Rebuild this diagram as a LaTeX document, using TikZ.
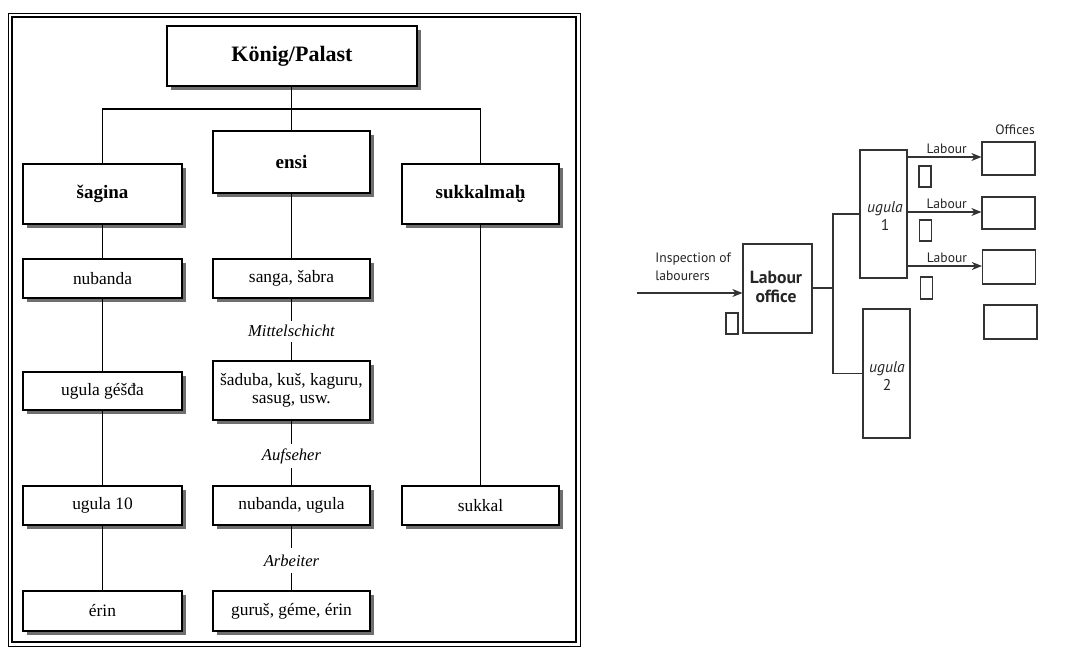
\documentclass[tikz,border=0pt]{standalone}
\usepackage{fontspec}
\setmainfont{Liberation Serif}
\newfontfamily\rsans{PT Sans}
\usetikzlibrary{shadows,arrows.meta}
\tikzset{
  lbox/.style={draw=black, line width=0.8pt, fill=white, inner sep=0pt, align=center,
    drop shadow={shadow xshift=2pt, shadow yshift=-2pt, opacity=0.8, fill=black!70}},
  bigbox/.style={lbox, font=\fontsize{9.5}{11}\selectfont\bfseries},
  smbox/.style={lbox, font=\fontsize{8.7}{10}\selectfont},
  lline/.style={line width=0.8pt, black},
  ilabel/.style={font=\fontsize{8.3}{10}\selectfont\itshape, inner sep=0pt},
  rline/.style={line width=0.6pt, black!80},
  rbox/.style={draw=black!80, line width=0.6pt, fill=white, inner sep=0pt, align=center},
  rtext/.style={font=\rsans\fontsize{6.8}{7.2}\selectfont, inner sep=0pt, text=black!85},
  rarrow/.style={rline, -{Stealth[length=5pt,width=4pt,inset=1.5pt]}},
}
\begin{document}
\begin{tikzpicture}[x=0.5pt, y=-0.5pt]
\useasboundingbox (0,0) rectangle (1089,648);
\fill[white] (0,0) rectangle (1089,648);
% frame
\draw[line width=0.5pt] (8,13) rectangle (580,646);
\draw[line width=1.1pt] (12,17) rectangle (576,642);
% top box
\node[lbox, font=\fontsize{11}{13}\selectfont\bfseries, minimum width=125pt, minimum height=30pt] (koenig) at (292,56) {König/Palast};
% row 1
\node[bigbox, minimum width=79.5pt, minimum height=30pt] (sagina) at (102.5,194) {šagina};
\node[bigbox, minimum width=78.5pt, minimum height=31pt] (ensi) at (291.5,162) {ensi};
\node[bigbox, minimum width=78.5pt, minimum height=30pt] (sukkalmah) at (480.5,194) {sukkalma\char"1E2B};
% column 1
\node[smbox, minimum width=79.5pt, minimum height=19.5pt] (nubanda) at (102.5,278.5) {nubanda};
\node[smbox, minimum width=79.5pt, minimum height=19pt] (gesda) at (102.5,391) {ugula géšđa};
\node[smbox, minimum width=79.5pt, minimum height=19.5pt] (ugulaten) at (102.5,505.5) {ugula 10};
\node[smbox, minimum width=79.5pt, minimum height=20pt] (erin) at (102.5,611) {érin};
% column 2
\node[smbox, minimum width=78.5pt, minimum height=19.5pt] (sanga) at (291.5,278.5) {sanga, šabra};
\node[smbox, minimum width=78.5pt, minimum height=29.5pt] (saduba) at (291.5,390.5) {šaduba, kuš, kaguru,\\[-1pt]sasug, usw.};
\node[smbox, minimum width=78.5pt, minimum height=19.5pt] (nubugula) at (291.5,505.5) {nubanda, ugula};
\node[smbox, minimum width=78.5pt, minimum height=20pt] (gurus) at (291.5,611) {guruš, géme, érin};
% column 3
\node[smbox, minimum width=78.5pt, minimum height=19.5pt] (sukkal) at (480.5,505.5) {sukkal};
% italic labels
\node[ilabel] (mittel) at (291.5,331) {Mittelschicht};
\node[ilabel] (aufseher) at (291.5,456) {Aufseher};
\node[ilabel] (arbeiter) at (291.5,561) {Arbeiter};
% connectors
\coordinate (hub) at (291.5,109);
\draw[lline] (koenig.south -| hub) -- (hub);
\draw[lline] (sagina.north) |- (hub) -| (sukkalmah.north);
\draw[lline] (hub) -- (ensi.north);
\draw[lline] (sagina) -- (nubanda);
\draw[lline] (nubanda) -- (gesda);
\draw[lline] (gesda) -- (ugulaten);
\draw[lline] (ugulaten) -- (erin);
\draw[lline] (ensi) -- (sanga);
\draw[lline] (sanga.south) -- ++(0,22);
\draw[lline] (saduba.north) -- ++(0,-18);
\draw[lline] (saduba.south) -- ++(0,23);
\draw[lline] (nubugula.north) -- ++(0,-17);
\draw[lline] (nubugula.south) -- ++(0,22);
\draw[lline] (gurus.north) -- ++(0,-17);
\draw[lline] (sukkalmah.south) -- (sukkal.north);

% ===== right diagram =====
\node[rbox, minimum width=34.5pt, minimum height=44.5pt] (office) at (777.5,288.5) {};
\node[font=\rsans\bfseries\fontsize{8.8}{9.6}\selectfont, align=center, inner sep=0pt, text=black!85] (officetxt) at (776,287) {Labour\\office};
\node[rtext, font=\rsans\fontsize{6.8}{9}\selectfont, align=left, anchor=west] (insp) at (655,267) {Inspection of\\labourers};
\coordinate (instart) at (637,293);
\draw[rarrow] (instart) -- (office.west |- instart);
\node[rbox, minimum width=6pt, minimum height=10.5pt] (sq0) at (732,323.5) {};
% ugula boxes
\node[rbox, minimum width=23.5pt, minimum height=64pt] (ug1) at (883.5,214) {};
\node[rtext, align=center, font=\rsans\fontsize{7.8}{8.8}\selectfont] at (885,216) {\itshape ugula\\1};
\node[rbox, minimum width=23.5pt, minimum height=64.5pt] (ug2) at (886.5,373.5) {};
\node[rtext, align=center, font=\rsans\fontsize{7.8}{8.8}\selectfont] at (887,376) {\itshape ugula\\2};
\coordinate (split) at (833,288);
\draw[rline] (office.east |- split) -- (split);
\draw[rline] (ug1.west) -| (split) |- (ug2.west);
% offices
\node[rbox, minimum width=26.5pt, minimum height=16.5pt] (of1) at (1008.5,158.5) {};
\node[rbox, minimum width=26.5pt, minimum height=16pt] (of2) at (1008.5,213) {};
\node[rbox, minimum width=26.5pt, minimum height=17pt] (of3) at (1009,267) {};
\node[rbox, minimum width=26.5pt, minimum height=17pt] (of4) at (1010.5,322) {};
\node[rtext] (offices) at (1015,130) {Offices};
% arrows
\draw[rarrow] (ug1.east |- 0,157) -- (of1.west |- 0,157) node[pos=0.53, above=1.5pt, rtext] {Labour};
\draw[rarrow] (ug1.east |- 0,212) -- (of2.west |- 0,212) node[pos=0.53, above=1.5pt, rtext] {Labour};
\draw[rarrow] (ug1.east |- 0,266) -- (of3.west |- 0,266) node[pos=0.53, above=1.5pt, rtext] {Labour};
% small squares
\node[rbox, minimum width=6pt, minimum height=10.5pt] (sq1) at (925,176.5) {};
\node[rbox, minimum width=6pt, minimum height=10.5pt] (sq2) at (925.5,230.5) {};
\node[rbox, minimum width=6pt, minimum height=11pt] (sq3) at (926.5,288) {};
\end{tikzpicture}
\end{document}
